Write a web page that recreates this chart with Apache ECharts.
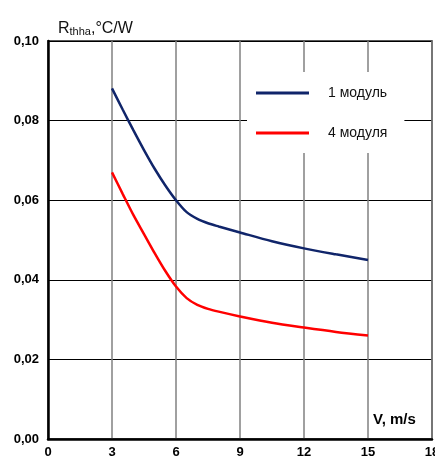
<!DOCTYPE html>
<html><head><meta charset="utf-8">
<script src="https://cdn.jsdelivr.net/npm/echarts@6/dist/echarts.min.js"></script>
<style>html,body{margin:0;padding:0;background:#fff}#c{width:435px;height:461px}</style>
</head><body><div id="c"></div>
<script>
const seriesNames = ['1 модуль', '4 модуля'];
const speedX = [3, 3.5, 4, 4.5, 5, 5.5, 6, 6.5, 7, 7.5, 8, 9, 10.5, 12, 13.5, 15];
const oneModule = [0.0881, 0.0828, 0.0776, 0.0726, 0.0679, 0.0637, 0.0600, 0.0570, 0.0553, 0.0542, 0.0534, 0.0519, 0.0497, 0.0479, 0.0464, 0.0450];
const fourModules = [0.0670, 0.0616, 0.0563, 0.0515, 0.0467, 0.0422, 0.0383, 0.0354, 0.0337, 0.0327, 0.0320, 0.0308, 0.0292, 0.0280, 0.0269, 0.0260];
const xTicks = [0, 3, 6, 9, 12, 15, 18];
const yTicks = [0, 0.02, 0.04, 0.06, 0.08, 0.10];

const font = 'Liberation Sans, Arial, sans-serif';
const chart = echarts.init(document.getElementById('c'));
const pairs = arr => speedX.map((x, i) => [x, arr[i]]);
chart.setOption({
  animation: false,
  backgroundColor: '#fff',
  grid: { left: 48, right: 3, top: 41, bottom: 22, show: true, borderColor: '#222', borderWidth: 1.5,
    backgroundColor: 'transparent', outerBoundsMode: 'none', containLabel: false },
  title: {
    left: 53, top: 12,
    text: '{a|R}{b|thha}{a|,°C/W}',
    textStyle: {
      fontWeight: 'normal',
      rich: {
        a: { fontFamily: font, fontSize: 16, fontWeight: 'normal', color: '#111', verticalAlign: 'bottom', lineHeight: 20 },
        b: { fontFamily: font, fontSize: 11, fontWeight: 'normal', color: '#111', verticalAlign: 'bottom', lineHeight: 16 }
      }
    }
  },
  legend: {
    orient: 'vertical', left: 247, top: 72,
    backgroundColor: '#fff',
    padding: [14, 17, 13, 9],
    itemGap: 26, itemWidth: 53, itemHeight: 3,
    icon: 'rect',
    textStyle: { fontFamily: font, fontSize: 14, color: '#111', padding: [0, 0, 0, 14] },
    data: seriesNames
  },
  xAxis: {
    type: 'value', min: xTicks[0], max: xTicks[xTicks.length - 1], interval: 3,
    axisLine: { show: true, lineStyle: { color: '#000', width: 2.5 } },
    axisTick: { show: false },
    axisLabel: { fontFamily: font, fontSize: 13, fontWeight: 'bold', color: '#000', margin: 7, showMaxLabel: true, hideOverlap: false },
    splitLine: { show: true, lineStyle: { color: '#808080', width: 1.5 } }
  },
  yAxis: {
    type: 'value', min: yTicks[0], max: yTicks[yTicks.length - 1], interval: 0.02,
    axisLine: { show: true, lineStyle: { color: '#000', width: 2.5 } },
    axisTick: { show: false },
    axisLabel: { fontFamily: font, fontSize: 13, fontWeight: 'bold', color: '#000', margin: 9,
      formatter: v => v.toFixed(2).replace('.', ',') },
    splitLine: { show: true, lineStyle: { color: '#000', width: 1 } }
  },
  graphic: [{
    type: 'text', left: 373, top: 412, z: 10,
    style: { text: 'V, m/s', font: 'bold 15px Liberation Sans, Arial, sans-serif', fill: '#000' }
  }],
  series: [
    { name: seriesNames[0], type: 'line', data: pairs(oneModule), smooth: 0.3, showSymbol: false,
      lineStyle: { color: '#10256a', width: 2.5 }, itemStyle: { color: '#10256a' } },
    { name: seriesNames[1], type: 'line', data: pairs(fourModules), smooth: 0.3, showSymbol: false,
      lineStyle: { color: '#ff0000', width: 2.5 }, itemStyle: { color: '#ff0000' } }
  ]
});
</script></body></html>
